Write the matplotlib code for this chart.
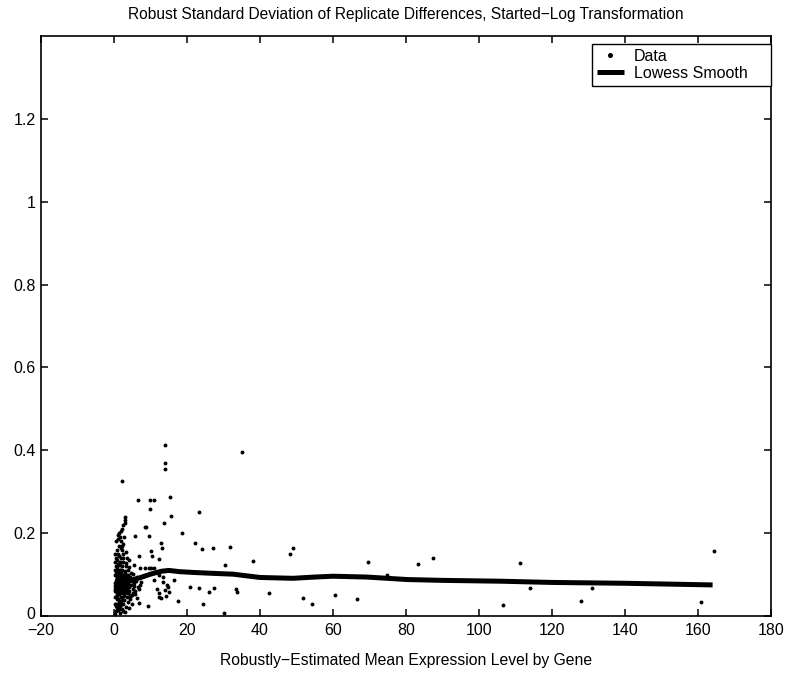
import matplotlib
matplotlib.use("Agg")
import matplotlib.pyplot as plt
from matplotlib.transforms import ScaledTranslation

# ---- data ----
# dense cloud near zero expression
cloud_x = [0.3, 0.5, 0.8, 1.2, 1.6, 2.1, 2.6, 3.2, 3.8, 0.4, 1.0, 1.9, 2.8, 4.3, 0.7, 1.4, 3.5, 4.8, 0.2, 2.3, 5.0, 3.0, 1.7, 4.0,
           0.3, 0.6, 0.9, 1.3, 1.8, 2.2, 2.7, 3.1, 3.6, 4.1, 4.6, 5.2, 0.5, 1.0, 1.5, 2.0, 2.5, 3.0, 3.4, 4.0, 4.4, 5.5, 6.0,
           0.4, 0.8, 1.2, 1.7, 2.3, 2.9, 3.3, 3.9, 4.7, 0.6, 1.1, 1.6, 2.1, 2.6, 0.2, 1.4, 2.4, 3.7, 4.5, 5.8, 6.5, 7.0, 5.4,
           0.9, 1.9, 2.8, 3.5, 4.2, 0.7, 1.5, 2.0, 3.8, 4.9,
           0.5, 1.0, 1.4, 1.9, 2.4, 0.8, 1.3, 1.8, 2.2, 0.6, 1.1, 1.6, 2.0, 2.5, 1.5, 1.9, 2.2, 2.6, 2.9, 3.1, 3.0, 2.7,
           3.3, 3.6, 4.2, 0.3, 0.9,
           0.6, 1.1, 2.5, 3.4, 1.3, 0.4, 2.0, 3.9, 1.7, 0.8, 2.9, 4.6, 5.1, 6.2, 7.4, 6.8, 5.6, 0.2, 1.2, 2.3,
           0.5, 1.0, 1.5, 2.0, 2.5, 3.0, 3.5, 4.0, 0.7, 1.2, 1.7, 2.2, 2.7, 3.2, 3.7, 4.2, 0.4, 0.9, 1.4, 1.9,
           2.4, 2.9, 3.4, 0.6, 1.1, 1.6, 2.1, 2.6, 3.1, 3.6, 0.8, 1.3, 1.8, 2.3, 2.8, 0.5, 1.0, 1.5, 2.0, 2.5,
           0.3, 0.9, 1.6, 2.4, 3.2, 4.1, 4.4, 5.3, 1.2, 2.1]
cloud_y = [0.005, 0.012, 0.020, 0.015, 0.025, 0.018, 0.030, 0.022, 0.035, 0.030, 0.040, 0.045, 0.048, 0.040, 0.050, 0.035, 0.045, 0.030, 0.045, 0.040, 0.050, 0.010, 0.008, 0.020,
           0.060, 0.070, 0.065, 0.075, 0.060, 0.070, 0.065, 0.080, 0.070, 0.060, 0.075, 0.065, 0.085, 0.090, 0.080, 0.095, 0.085, 0.090, 0.100, 0.085, 0.095, 0.090, 0.085,
           0.100, 0.110, 0.105, 0.100, 0.110, 0.105, 0.120, 0.110, 0.105, 0.120, 0.125, 0.130, 0.120, 0.130, 0.080, 0.055, 0.058, 0.055, 0.050, 0.060, 0.070, 0.075, 0.080,
           0.095, 0.085, 0.075, 0.065, 0.070, 0.040, 0.068, 0.078, 0.090, 0.085,
           0.140, 0.150, 0.145, 0.140, 0.150, 0.160, 0.170, 0.165, 0.160, 0.180, 0.185, 0.190, 0.180, 0.175, 0.200, 0.205, 0.210, 0.220, 0.225, 0.232, 0.240, 0.190,
           0.155, 0.140, 0.135, 0.130, 0.135,
           0.028, 0.062, 0.100, 0.058, 0.092, 0.072, 0.028, 0.100, 0.112, 0.088, 0.055, 0.088, 0.102, 0.095, 0.082, 0.065, 0.072, 0.110, 0.082, 0.060,
           0.072, 0.078, 0.088, 0.066, 0.074, 0.058, 0.082, 0.076, 0.092, 0.084, 0.072, 0.086, 0.096, 0.068, 0.080, 0.090, 0.064, 0.056, 0.094, 0.106,
           0.092, 0.082, 0.074, 0.104, 0.098, 0.112, 0.090, 0.068, 0.108, 0.096, 0.048, 0.052, 0.036, 0.056, 0.038, 0.024, 0.026, 0.016, 0.034, 0.012,
           0.150, 0.118, 0.122, 0.140, 0.128, 0.118, 0.045, 0.055, 0.195, 0.170]

# scattered genes with higher expression
spread_x = [14.0, 14.0, 14.0, 2.2, 6.7, 9.9, 10.9, 15.3, 9.9, 23.2, 15.6, 13.6, 8.4, 8.9, 18.7, 5.8, 9.6, 12.8, 13.1, 22.3,
            24.2, 10.1, 10.5, 6.8, 12.3, 5.4, 7.1, 8.4, 9.6, 10.1, 11.0, 11.0, 13.5, 13.3, 14.4, 14.9, 13.9, 15.1, 14.3, 16.4,
            20.9, 23.2, 17.4, 24.3, 9.4, 11.8, 12.2, 12.4, 12.9, 12.4, 5.8, 6.2, 6.9,
            35.2, 27.0, 31.7, 30.5, 38.0, 48.1, 49.1, 69.6, 83.3, 87.3, 26.1, 27.3, 30.0, 33.5, 33.8, 42.5, 51.9, 54.2, 60.5,
            66.7, 74.7, 111.3, 114.0, 106.6, 128.0, 131.0, 160.7, 164.3]
spread_y = [0.413, 0.370, 0.354, 0.327, 0.281, 0.281, 0.280, 0.287, 0.259, 0.250, 0.241, 0.224, 0.216, 0.216, 0.200, 0.193, 0.193, 0.176, 0.165, 0.176,
            0.161, 0.158, 0.146, 0.145, 0.137, 0.122, 0.117, 0.117, 0.117, 0.115, 0.117, 0.088, 0.095, 0.081, 0.076, 0.071, 0.063, 0.059, 0.049, 0.086,
            0.071, 0.067, 0.037, 0.028, 0.023, 0.065, 0.055, 0.047, 0.043, 0.098, 0.052, 0.043, 0.031,
            0.395, 0.165, 0.166, 0.122, 0.132, 0.150, 0.165, 0.131, 0.125, 0.141, 0.057, 0.068, 0.007, 0.066, 0.057, 0.056, 0.044, 0.028, 0.050,
            0.042, 0.098, 0.127, 0.067, 0.027, 0.037, 0.067, 0.033, 0.157]

# lowess smooth
smooth_x = [0.3, 4.0, 7.0, 10.0, 13.0, 15.0, 18.0, 22.0, 27.0, 32.6, 40.0, 49.0, 55.0, 60.0, 69.3, 80.3, 90.0, 105.8, 120.0, 140.0, 164.0]
smooth_y = [0.083, 0.085, 0.092, 0.101, 0.108, 0.110, 0.107, 0.105, 0.103, 0.101, 0.093, 0.091, 0.094, 0.096, 0.094, 0.088, 0.086, 0.084, 0.081, 0.079, 0.075]

x_ticks = [-20, 0, 20, 40, 60, 80, 100, 120, 140, 160, 180]
y_ticks = [0, 0.2, 0.4, 0.6, 0.8, 1.0, 1.2]
y_tick_labels = ["0", "0.2", "0.4", "0.6", "0.8", "1", "1.2"]

plt.rcParams["font.family"] = ["Liberation Sans", "DejaVu Sans"]

fig = plt.figure(figsize=(7.91, 6.73), dpi=100)
ax = fig.add_axes([41 / 791, 1 - 616 / 673, 730 / 791, 580 / 673])

data_x = cloud_x + spread_x
data_y = cloud_y + spread_y
ax.plot(data_x, data_y, linestyle="none", marker="o", markersize=2.8,
        color="black", markeredgewidth=0, label="Data")
ax.plot(smooth_x, smooth_y, color="black", linewidth=3.6, label="Lowess Smooth",
        solid_capstyle="butt")

ax.set_xlim(-20, 180)
ax.set_ylim(0, 1.4)
ax.set_xticks(x_ticks)
ax.set_yticks(y_ticks)
ax.set_yticklabels(y_tick_labels)
ax.tick_params(direction="in", length=5, width=1.1, top=True, right=True,
               labelsize=11.5)
ax.tick_params(axis="y", pad=4)
ax.tick_params(axis="x", pad=5)
for s in ax.spines.values():
    s.set_linewidth(1.2)

# nudge the "0" y label up slightly so it does not collide with "-20"
ylabels = ax.get_yticklabels()
ylabels[0].set_transform(ylabels[0].get_transform() +
                         ScaledTranslation(0, 3 / 100, fig.dpi_scale_trans))

ax.set_title("Robust Standard Deviation of Replicate Differences, Started\u2212Log Transformation",
             fontsize=11.2, pad=12)
ax.set_xlabel("Robustly\u2212Estimated Mean Expression Level by Gene", fontsize=11.3, labelpad=11)

leg = ax.legend(loc="upper left", bbox_to_anchor=(0.7548, 0.0, 0.245, 0.986),
                mode="expand", borderaxespad=0,
                fontsize=11.5, fancybox=False, edgecolor="black", framealpha=1,
                handlelength=1.7, handletextpad=0.6, markerscale=1.3,
                borderpad=0.3, labelspacing=0.12)
leg.get_frame().set_linewidth(1.0)

fig.savefig("out.png", dpi=100)
